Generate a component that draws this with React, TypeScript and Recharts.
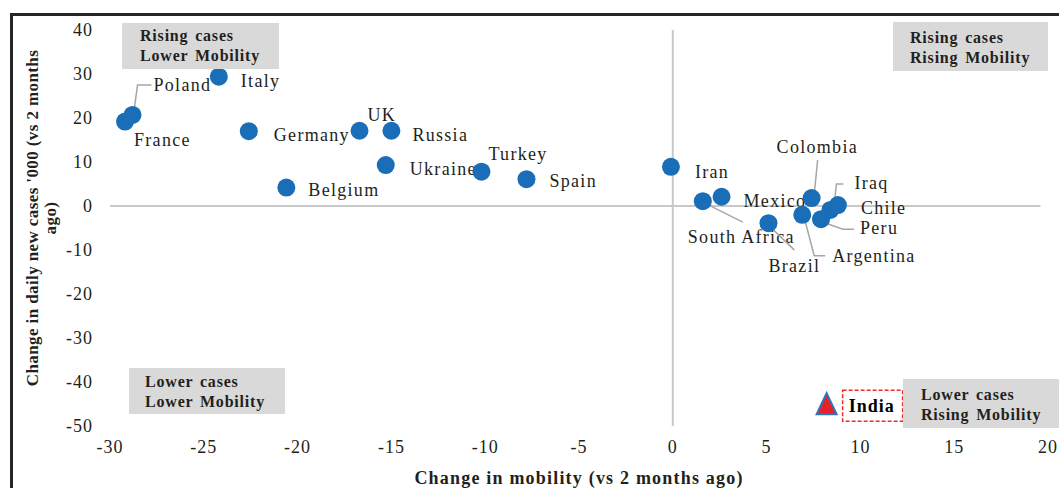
import { ReferenceLine, Scatter, ScatterChart, XAxis, YAxis } from 'recharts';

const COUNTRIES = [
  'France', 'Poland', 'Italy', 'Germany', 'UK', 'Russia', 'Ukraine', 'Belgium', 'Turkey', 'Spain',
  'Iran', 'South Africa', 'Mexico', 'Colombia', 'Iraq', 'Chile', 'Peru', 'Argentina', 'Brazil'
];
const MOBILITY = [-29.2, -28.8, -24.2, -22.6, -16.7, -15.0, -15.3, -20.6, -10.2, -7.8, -0.1, 1.6, 2.6, 7.4, 8.4, 8.8, 7.9, 6.9, 5.1];
const CASES = [19.2, 20.7, 29.4, 17.0, 17.1, 17.1, 9.3, 4.2, 7.8, 6.1, 8.9, 1.1, 2.1, 1.8, -0.9, 0.2, -3.0, -2.0, -3.9];

const HIGHLIGHT = ['India'];
const HIGHLIGHT_MOBILITY = [8.2];
const HIGHLIGHT_CASES = [-45.5];

const X_TICKS = [-30, -25, -20, -15, -10, -5, 0, 5, 10, 15, 20];
const Y_TICKS = [-50, -40, -30, -20, -10, 0, 10, 20, 30, 40];

const X_TITLE = 'Change in mobility (vs 2 months ago)';
const Y_TITLE = ["Change in daily new cases '000 (vs 2 months", 'ago)'];

const QUADRANTS = [
  ['Rising cases', 'Lower Mobility'],
  ['Rising cases', 'Rising Mobility'],
  ['Lower cases', 'Lower Mobility'],
  ['Lower cases', 'Rising Mobility']
];

// label placement relative to each point (px), leader lines as polylines
const LABEL_POS: Record<string, { dx: number; dy: number; leader?: number[][] }> = {
  France: { dx: 9, dy: 18 },
  Poland: { dx: 21, dy: -30, leader: [[1, 0], [5, -30], [19, -30]] },
  Italy: { dx: 22, dy: 4 },
  Germany: { dx: 25, dy: 4 },
  UK: { dx: 8, dy: -16 },
  Russia: { dx: 21, dy: 4 },
  Ukraine: { dx: 24, dy: 4 },
  Belgium: { dx: 22, dy: 2 },
  Turkey: { dx: 7, dy: -18 },
  Spain: { dx: 23, dy: 2 },
  Iran: { dx: 24, dy: 5 },
  'South Africa': { dx: -15, dy: 36, leader: [[0, 1], [40, 21]] },
  Mexico: { dx: 22, dy: 4 },
  Colombia: { dx: -35, dy: -51, leader: [[2, 2], [6, -38]] },
  Iraq: { dx: 24, dy: -27, leader: [[3, 2], [6, -26], [13, -26]] },
  Chile: { dx: 23, dy: 3 },
  Peru: { dx: 39, dy: 9, leader: [[2, 3], [22, 10], [33, 10]] },
  Argentina: { dx: 30, dy: 41, leader: [[2, 3], [12, 41], [23, 41]] },
  Brazil: { dx: 0, dy: 43, leader: [[1, 3], [26, 27]] }
};

const QUAD_BOX = [
  { left: 122, top: 23, width: 157, height: 46, padL: 18, padT: 3 },
  { left: 893, top: 22, width: 155, height: 49, padL: 17, padT: 6 },
  { left: 129, top: 368, width: 156, height: 46, padL: 16, padT: 4 },
  { left: 903, top: 379, width: 156, height: 49, padL: 18, padT: 6 }
];

const SERIF = '"Liberation Serif", "Times New Roman", serif';
const BLUE = '#1a6db7';
const TEXT = '#231f20';

const countryData = COUNTRIES.map((name, i) => ({ name, x: MOBILITY[i], y: CASES[i] }));
const highlightData = HIGHLIGHT.map((name, i) => ({ name, x: HIGHLIGHT_MOBILITY[i], y: HIGHLIGHT_CASES[i] }));

function Dot(props: any) {
  return <circle cx={props.cx} cy={props.cy} r={9} fill={BLUE} />;
}

function CountryLabel(props: any) {
  const { cx, cy, payload } = props;
  const pos = LABEL_POS[payload.name];
  return (
    <g>
      {pos.leader && (
        <polyline
          points={pos.leader.map(([a, b]) => `${cx + a},${cy + b}`).join(' ')}
          fill="none"
          stroke="#a6a6a6"
          strokeWidth={1.5}
        />
      )}
      <text
        x={cx + pos.dx}
        y={cy + pos.dy}
        dominantBaseline="central"
        fontFamily={SERIF}
        fontSize={18}
        letterSpacing={1.3}
        fill={TEXT}
      >
        {payload.name}
      </text>
    </g>
  );
}

function Triangle(props: any) {
  const { cx, cy, payload } = props;
  return (
    <g>
      <path
        d={`M${cx},${cy - 13} L${cx + 10},${cy + 8} L${cx - 10},${cy + 8} Z`}
        fill="#e8202a"
        stroke="#2e75b6"
        strokeWidth={2}
      />
      <rect x={cx + 16} y={cy - 16} width={60} height={31} fill="none" stroke="#ee2a2a" strokeWidth={1.5} strokeDasharray="4 2" />
      <text
        x={cx + 22}
        y={cy}
        dominantBaseline="central"
        fontFamily={SERIF}
        fontSize={18}
        fontWeight="bold"
        letterSpacing={1}
        fill="#000"
      >
        {payload.name}
      </text>
    </g>
  );
}

function XTick(props: any) {
  return (
    <text x={props.x} y={props.y} textAnchor="middle" dominantBaseline="central" fontFamily={SERIF} fontSize={18} letterSpacing={1} fill={TEXT}>
      {props.payload.value}
    </text>
  );
}

function YTick(props: any) {
  return (
    <text x={props.x} y={props.y} textAnchor="end" dominantBaseline="central" fontFamily={SERIF} fontSize={18} letterSpacing={1} fill={TEXT}>
      {props.payload.value}
    </text>
  );
}

export default function App() {
  return (
    <div style={{ position: 'absolute', left: 0, top: 0, width: 1059, height: 488, background: '#fff', overflow: 'hidden', fontFamily: SERIF }}>
      <div style={{ position: 'absolute', left: 10, top: 13, width: 1049, height: 3, background: '#262626' }} />
      <div style={{ position: 'absolute', left: 10, top: 13, width: 3, height: 475, background: '#262626' }} />
      <ScatterChart width={1059} height={488} margin={{ top: 30, right: 11, left: 0, bottom: 0 }}>
        <XAxis
          type="number"
          dataKey="x"
          domain={[-30, 20]}
          ticks={X_TICKS}
          axisLine={false}
          tickLine={false}
          tickSize={0}
          tickMargin={21}
          height={62}
          tick={<XTick />}
          label={{
            content: (p: any) => (
              <text
                x={p.viewBox.x + p.viewBox.width / 2}
                y={p.viewBox.y + 52}
                textAnchor="middle"
                dominantBaseline="central"
                fontFamily={SERIF}
                fontSize={18}
                fontWeight="bold"
                letterSpacing={1.2}
                fill={TEXT}
              >
                {X_TITLE}
              </text>
            )
          }}
        />
        <YAxis
          type="number"
          dataKey="y"
          domain={[-50, 40]}
          ticks={Y_TICKS}
          axisLine={false}
          tickLine={false}
          tickSize={0}
          tickMargin={17}
          width={110}
          tick={<YTick />}
          label={{
            content: (p: any) => {
              const cy = p.viewBox.y + p.viewBox.height / 2 - 10;
              return (
                <g>
                  {Y_TITLE.map((line, i) => (
                    <text
                      key={i}
                      x={32 + i * 18}
                      y={cy}
                      transform={`rotate(-90, ${32 + i * 18}, ${cy})`}
                      textAnchor="middle"
                      dominantBaseline="central"
                      fontFamily={SERIF}
                      fontSize={17}
                      fontWeight="bold"
                      letterSpacing={0.4}
                      fill={TEXT}
                    >
                      {line}
                    </text>
                  ))}
                </g>
              );
            }
          }}
        />
        <ReferenceLine x={0} stroke="#c8c8c8" strokeWidth={2} />
        <ReferenceLine segment={[{ x: -30, y: 0 }, { x: 19.6, y: 0 }]} stroke="#c8c8c8" strokeWidth={2} />
        <Scatter data={countryData} shape={<CountryLabel />} isAnimationActive={false} />
        <Scatter data={countryData} shape={<Dot />} isAnimationActive={false} />
        <Scatter data={highlightData} shape={<Triangle />} isAnimationActive={false} />
      </ScatterChart>
      {QUADRANTS.map((lines, i) => {
        const b = QUAD_BOX[i];
        return (
          <div
            key={i}
            style={{
              position: 'absolute',
              left: b.left,
              top: b.top,
              width: b.width,
              height: b.height,
              boxSizing: 'border-box',
              paddingLeft: b.padL,
              paddingTop: b.padT,
              background: '#d9d9d9',
              fontSize: 16,
              fontWeight: 'bold',
              lineHeight: '20px',
              letterSpacing: 0.8,
              wordSpacing: 2,
              color: TEXT
            }}
          >
            {lines.map((l) => (
              <div key={l}>{l}</div>
            ))}
          </div>
        );
      })}
    </div>
  );
}
